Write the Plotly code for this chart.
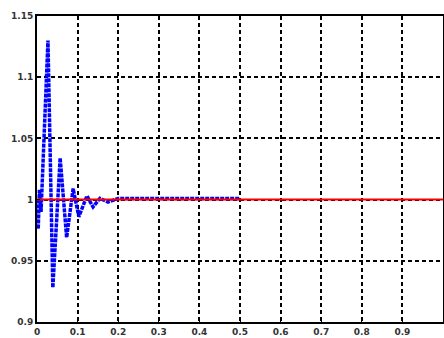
import plotly.graph_objects as go

# Blue response (turning points)
resp_x = [0, 0.003, 0.006, 0.01, 0.027, 0.039, 0.057, 0.073, 0.089, 0.103,
          0.123, 0.138, 0.155, 0.175, 0.2, 0.3, 0.4, 0.5]
resp_y = [1.0, 0.976, 1.008, 0.99, 1.13, 0.928, 1.034, 0.969, 1.009, 0.986,
          1.003, 0.994, 1.001, 0.998, 1.001, 1.001, 1.001, 1.001]

# Red reference line
ref_x = [0, 1]
ref_y = [1, 1]

x_ticks = [0, 0.1, 0.2, 0.3, 0.4, 0.5, 0.6, 0.7, 0.8, 0.9]
x_labels = ["0", "0.1", "0.2", "0.3", "0.4", "0.5", "0.6", "0.7", "0.8", "0.9"]
y_ticks = [0.9, 0.95, 1.0, 1.05, 1.1, 1.15]
y_labels = ["0.9", "0.95", "1", "1.05", "1.1", "1.15"]

fig = go.Figure()
fig.add_trace(go.Scatter(x=resp_x, y=resp_y, mode="lines",
                         line=dict(color="#0000ff", width=3.5, dash="4px,1px"),
                         showlegend=False))
fig.add_trace(go.Scatter(x=ref_x, y=ref_y, mode="lines",
                         line=dict(color="#ff0000", width=2),
                         showlegend=False))

axis_common = dict(showgrid=True, gridcolor="black", gridwidth=1.8,
                   griddash="4px,3px", showline=True, linecolor="black",
                   linewidth=2, mirror=True, ticks="inside", ticklen=3,
                   tickcolor="black", zeroline=False, automargin=False,
                   tickfont=dict(family="DejaVu Sans", size=9, color="#333",
                                 weight="bold"))

fig.update_xaxes(range=[0, 1], tickvals=x_ticks, ticktext=x_labels, **axis_common)
fig.update_yaxes(range=[0.9, 1.15], tickvals=y_ticks, ticktext=y_labels, **axis_common)

fig.update_layout(width=444, height=338,
                  margin=dict(l=37, r=1, t=16, b=16),
                  plot_bgcolor="white", paper_bgcolor="white")

fig.write_html("out.html", config={"displayModeBar": False},
               post_script="document.body.style.margin='0';")
